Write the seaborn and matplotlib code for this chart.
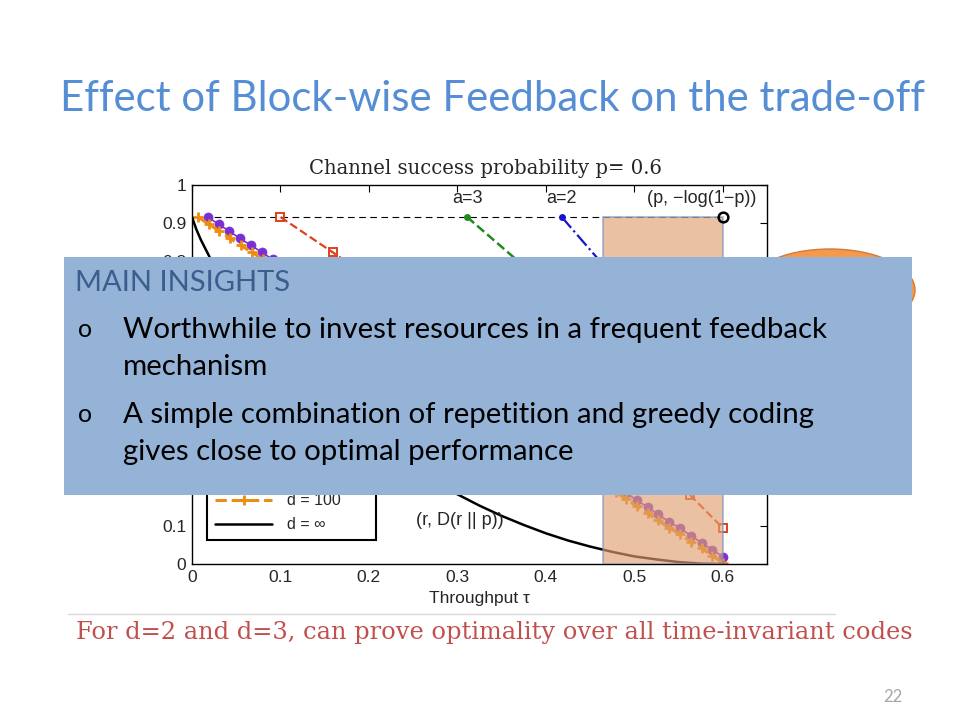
import pandas as pd
import seaborn as sns
import matplotlib.pyplot as plt
from matplotlib.patches import Rectangle, Ellipse
from matplotlib.lines import Line2D

# channel success probability and its bound -log(1-p)
p = 0.6
cap = 0.916

# d = infinity curve : (r, D(r || p))
inf_x = [0, 0.005, 0.01, 0.02, 0.03, 0.04, 0.06, 0.08, 0.10, 0.15, 0.20, 0.25, 0.30, 0.325,
         0.35, 0.375, 0.40, 0.425, 0.45, 0.475, 0.50, 0.525, 0.55, 0.575, 0.60]
inf_y = [0.916, 0.883, 0.856, 0.810, 0.769, 0.732, 0.665, 0.605, 0.551, 0.433, 0.335, 0.253, 0.184, 0.154,
         0.127, 0.103, 0.081, 0.062, 0.046, 0.032, 0.020, 0.012, 0.005, 0.001, 0.0]

# a = 2 (blue) and a = 3 (green) curves
blue_x = [0.418, 0.461, 0.51, 0.555, 0.60]
blue_y = [0.916, 0.800, 0.670, 0.550, 0.430]
green_x = [0.311, 0.365, 0.42, 0.48, 0.54, 0.60]
green_y = [0.916, 0.807, 0.700, 0.585, 0.470, 0.360]

# red squares
red_x = [0.1, 0.159, 0.22, 0.29, 0.36, 0.43, 0.50, 0.563, 0.6]
red_y = [0.916, 0.823, 0.727, 0.615, 0.503, 0.390, 0.278, 0.182, 0.095]

# purple dots
purple_x = [0.018, 0.030, 0.042, 0.054, 0.067, 0.079, 0.091, 0.103, 0.115, 0.127,
            0.139, 0.151, 0.164, 0.176, 0.188, 0.200, 0.212, 0.224, 0.236, 0.248,
            0.261, 0.273, 0.285, 0.297, 0.309, 0.321, 0.333, 0.345, 0.358, 0.370,
            0.382, 0.394, 0.406, 0.418, 0.430, 0.442, 0.455, 0.467, 0.479, 0.491,
            0.503, 0.515, 0.527, 0.539, 0.552, 0.564, 0.576, 0.588, 0.600]
purple_y = [0.916, 0.897, 0.879, 0.860, 0.841, 0.823, 0.804, 0.785, 0.766, 0.748,
            0.729, 0.710, 0.692, 0.673, 0.654, 0.636, 0.617, 0.598, 0.580, 0.561,
            0.542, 0.523, 0.505, 0.486, 0.467, 0.449, 0.430, 0.411, 0.393, 0.374,
            0.355, 0.337, 0.318, 0.299, 0.280, 0.262, 0.243, 0.224, 0.206, 0.187,
            0.168, 0.150, 0.131, 0.112, 0.094, 0.075, 0.056, 0.038, 0.019]

# orange crosses (d = 100)
orange_x = [0.007, 0.019, 0.031, 0.043, 0.055, 0.068, 0.080, 0.092, 0.104, 0.116,
            0.128, 0.140, 0.152, 0.164, 0.176, 0.189, 0.201, 0.213, 0.225, 0.237,
            0.249, 0.261, 0.273, 0.285, 0.297, 0.310, 0.322, 0.334, 0.346, 0.358,
            0.370, 0.382, 0.394, 0.406, 0.418, 0.431, 0.443, 0.455, 0.467, 0.479,
            0.491, 0.503, 0.515, 0.527, 0.539, 0.552, 0.564, 0.576, 0.588, 0.600]
orange_y = [0.916, 0.897, 0.879, 0.860, 0.841, 0.823, 0.804, 0.786, 0.767, 0.748,
            0.730, 0.711, 0.692, 0.674, 0.655, 0.637, 0.618, 0.599, 0.581, 0.562,
            0.543, 0.525, 0.506, 0.488, 0.469, 0.450, 0.432, 0.413, 0.394, 0.376,
            0.357, 0.339, 0.320, 0.301, 0.283, 0.264, 0.245, 0.227, 0.208, 0.190,
            0.171, 0.152, 0.134, 0.115, 0.096, 0.078, 0.059, 0.041, 0.022, 0.003]

xticks = [0, 0.1, 0.2, 0.3, 0.4, 0.5, 0.6]
xtick_labels = ['0', '0.1', '0.2', '0.3', '0.4', '0.5', '0.6']
yticks = [0, 0.1, 0.2, 0.3, 0.4, 0.5, 0.6, 0.7, 0.8, 0.9, 1.0]
ytick_labels = ['0', '0.1', '0.2', '0.3', '0.4', '0.5', '0.6', '0.7', '0.8', '0.9', '1']

# highlighted region
region_x0 = 0.465

sns.set_theme(style='white')
plt.rcParams['font.family'] = ['Liberation Sans', 'DejaVu Sans']
plt.rcParams['xtick.direction'] = 'in'
plt.rcParams['ytick.direction'] = 'in'
plt.rcParams['xtick.top'] = True
plt.rcParams['ytick.right'] = True

fig = plt.figure(figsize=(9.6, 7.2), dpi=100)
ax = fig.add_axes([0.2, 0.2167, 0.599, 0.526])

# bound line
sns.lineplot(x=[0, p], y=[cap, cap], ax=ax, color='black', linestyle=(0, (6, 4)), linewidth=0.8)

sns.lineplot(x=blue_x, y=blue_y, ax=ax, color='#1414D2', linestyle='-.', linewidth=1.6,
             marker='o', markersize=5, markevery=[0], markeredgewidth=0, label='d = 2, a = 2',
             sort=False, estimator=None)
sns.lineplot(x=green_x, y=green_y, ax=ax, color='#1E8C1E', linestyle='--', linewidth=1.8,
             marker='o', markersize=5, markevery=[0], markeredgewidth=0, label='d = 3, a = 3',
             sort=False, estimator=None)
sns.lineplot(x=red_x, y=red_y, ax=ax, color='#E0401C', linestyle='--', linewidth=1.6,
             marker='s', markersize=6, markerfacecolor='none', markeredgecolor='#E0401C',
             markeredgewidth=1.4, label='d = 10', sort=False, estimator=None)
sns.lineplot(x=purple_x, y=purple_y, ax=ax, color='#7A2FD6', linestyle='-', linewidth=1.2,
             marker='o', markersize=6.5, markeredgecolor='#7A2FD6', markeredgewidth=0.5,
             label='d = 20', sort=False, estimator=None)
sns.lineplot(x=orange_x, y=orange_y, ax=ax, color='#EE8C10', linestyle='--', linewidth=2.2,
             marker='+', markersize=7, markeredgecolor='#EE8C10', markeredgewidth=2,
             label='d = 100', sort=False, estimator=None)
sns.lineplot(x=inf_x, y=inf_y, ax=ax, color='black', linestyle='-', linewidth=1.8,
             label='d = \u221e', sort=False, estimator=None)

# highlighted region near capacity
ax.add_patch(Rectangle((region_x0, 0), p - region_x0, cap, facecolor='#E0A070', alpha=0.65,
                       edgecolor='#6F8FC0', linewidth=1.2, zorder=5))
ax.plot([p], [cap], marker='o', markersize=7, markerfacecolor='none', markeredgecolor='black',
        markeredgewidth=1.8, zorder=6)

ax.set_xlim(0, 0.65)
ax.set_ylim(0, 1)
ax.set_xticks(xticks)
ax.set_xticklabels(xtick_labels)
ax.set_yticks(yticks)
ax.set_yticklabels(ytick_labels)
ax.tick_params(labelsize=12.5, length=5, width=0.8, color='black', pad=4)
for s in ax.spines.values():
    s.set_color('black')
    s.set_linewidth(1.0)
ax.set_xlabel('Throughput \u03c4', fontsize=12.5, labelpad=5)
ax.set_ylabel('In-order delivery exponent \u03b3', fontsize=12.5, labelpad=4)

ax.text(green_x[0], 0.966, 'a=3', fontsize=13, ha='center', va='center')
ax.text(blue_x[0], 0.966, 'a=2', fontsize=13, ha='center', va='center')
ax.text(0.638, 0.966, '(p, \u2212log(1\u2212p))', fontsize=13, ha='right', va='center')
ax.text(0.253, 0.116, '(r, D(r || p))', fontsize=13, ha='left', va='center')

leg = ax.legend(loc='lower left', bbox_to_anchor=(0.026, 0.063), borderaxespad=0,
                fontsize=11.5, handlelength=3.6, handletextpad=0.9, borderpad=0.5,
                labelspacing=0.55, fancybox=False, edgecolor='black', framealpha=1)
leg.get_frame().set_linewidth(1.5)

# chart title
fig.text(485 / 960, 1 - 168 / 720, 'Channel success probability p= 0.6', fontsize=14.1,
         family=['DejaVu Serif'], ha='center', va='center')

# slide title
fig.text(492 / 960, 1 - 99 / 720, 'Effect of Block-wise Feedback on the trade-off', fontsize=30.2,
         family=['Lato', 'DejaVu Sans'], color='#558ED5', ha='center', va='center')

# orange callout behind the insights box
fig.add_artist(Ellipse((830 / 960, 1 - 290 / 720), 170 / 960, 82 / 720, transform=fig.transFigure,
                       facecolor='#F39A4E', edgecolor='#D27A3A', linewidth=1))

# insights box
fig.add_artist(Rectangle((64 / 960, 1 - 495 / 720), 848 / 960, 238 / 720, transform=fig.transFigure,
                         facecolor='#95B3D7', edgecolor='none'))
box_font = ['Lato', 'DejaVu Sans']
fig.text(75 / 960, 1 - 283 / 720, 'MAIN INSIGHTS', fontsize=21, family=box_font, color='#3B5E8E',
         va='center', ha='left')
bullets = [('Worthwhile to invest resources in a frequent feedback', 'mechanism'),
           ('A simple combination of repetition and greedy coding', 'gives close to optimal performance')]
bullet_y = [330, 415]
for (l1, l2), by in zip(bullets, bullet_y):
    fig.text(78 / 960, 1 - by / 720, 'o', fontsize=18, family=box_font, color='black', va='center')
    fig.text(123 / 960, 1 - by / 720, l1, fontsize=21.2, family=box_font, color='black', va='center')
    fig.text(123 / 960, 1 - (by + 37) / 720, l2, fontsize=21.2, family=box_font, color='black',
             va='center')

# footnote and separator
fig.add_artist(Line2D([68 / 960, 835 / 960], [1 - 614 / 720, 1 - 614 / 720], transform=fig.transFigure,
                      color='#D9D9D9', linewidth=1))
fig.text(494 / 960, 1 - 633 / 720, 'For d=2 and d=3, can prove optimality over all time-invariant codes',
         fontsize=17.4, family=['DejaVu Serif'], color='#C0504D', ha='center', va='center')
fig.text(893 / 960, 1 - 697 / 720, '22', fontsize=12, family=['Lato', 'DejaVu Sans'], color='#A6A6A6',
         ha='center', va='center')

fig.savefig('out.png', dpi=100)
